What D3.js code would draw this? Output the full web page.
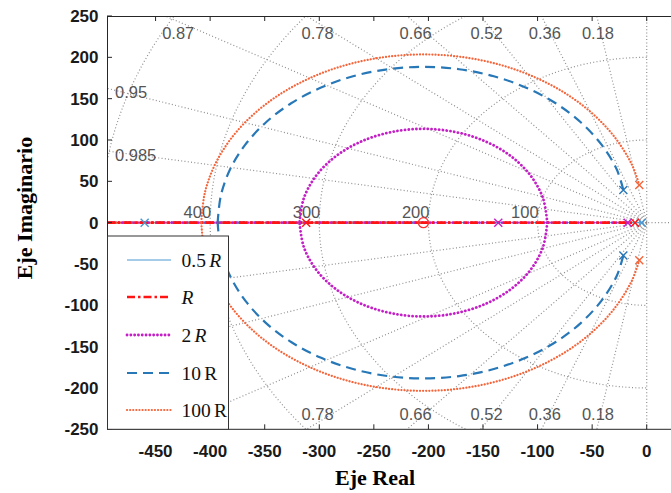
<!DOCTYPE html>
<html><head><meta charset="utf-8">
<script src="https://cdn.jsdelivr.net/npm/d3@7"></script>
<style>body{margin:0;background:#fff}svg{display:block}</style>
</head><body>
<svg id="c" width="671" height="493"></svg>
<script>
// ---------- data ----------
const xTicks = [-450,-400,-350,-300,-250,-200,-150,-100,-50,0];
const yTicks = [-250,-200,-150,-100,-50,0,50,100,150,200,250];
const zetaVals = [0.985,0.95,0.87,0.78,0.66,0.52,0.36,0.18];
const zetaLabels = ["0.985","0.95","0.87","0.78","0.66","0.52","0.36","0.18"];
const wnVals = [100,200,300,400,500];
const wnLabels = ["100","200","300","400","500"];

const seriesNames = ["0.5R","R","2R","10R","100R"];
const legendNum = ["0.5","","2","10","100"];
const legendItalic = [true,true,true,false,false];

// upper-half branches (real, imag); lower half is the conjugate
const locus2R = [[-91.1,0],[-95.0,29.4],[-106.3,56.8],[-124.3,80.3],[-147.8,98.3],[-175.2,109.6],[-204.6,113.5],[-234.0,109.6],[-261.4,98.3],[-284.9,80.3],[-302.9,56.8],[-314.2,29.4],[-318.1,0]];
const locus10R = [[-21.4,39.6],[-27.5,64.5],[-41.4,94.3],[-60.2,121.2],[-83.4,144.4],[-110.4,163.2],[-140.1,177.1],[-171.9,185.6],[-204.6,188.5],[-237.3,185.6],[-269.1,177.1],[-298.9,163.2],[-325.8,144.4],[-349.0,121.2],[-367.8,94.3],[-381.7,64.5],[-390.2,32.7],[-393.1,0]];
const locus100R = [[-6.8,45.6],[-13.4,69.6],[-28.4,101.8],[-48.7,130.8],[-73.8,155.9],[-102.9,176.2],[-135.0,191.2],[-169.3,200.4],[-204.6,203.5],[-239.9,200.4],[-274.2,191.2],[-306.4,176.2],[-335.4,155.9],[-360.5,130.8],[-380.8,101.8],[-395.8,69.6],[-405.0,35.3],[-408.1,0]];

// real-axis segments [from, to]
const axis05R = [[-494.5,-4.5]];
const axisR = [[-494.5,-10.7]];
const axis2R = [[-494.5,-17.4]];
const axis10R = [[-494.5,-204.6]];
const axis100R = [[-494.5,-204.6]];

const poles05R = [[-460,0],[-4.5,0]];
const polesR = [[-312,0],[-10.7,0]];
const poles2R = [[-136,0],[-17.4,0]];
const poles10R = [[-21.4,39.6],[-21.4,-39.6]];
const poles100R = [[-6.8,45.6],[-6.8,-45.6]];
const zerosR = [[-204.6,0]];

// ---------- layout ----------
const L=107, T=16, B=429.3, R=674;
const legW = 121, legTop = 236;
const x = d3.scaleLinear().domain([-494.5,25]).range([L,R]);
const y = d3.scaleLinear().domain([-250,250]).range([B,T]);
const svg = d3.select("#c");
svg.append("defs").append("clipPath").attr("id","pc").append("rect")
  .attr("x",L).attr("y",T).attr("width",R-L).attr("height",B-T);
const plot = svg.append("g").attr("clip-path","url(#pc)");

const gridStyle = s => s.attr("fill","none").attr("stroke","#8f8f8f").attr("stroke-width",1.2).attr("stroke-dasharray","1,2.3");
const grid = plot.append("g");
zetaVals.forEach(z=>{
  const s = Math.sqrt(1-z*z);
  [1,-1].forEach(sg=>{
    grid.append("line").attr("x1",x(0)).attr("y1",y(0)).attr("x2",x(-2000*z)).attr("y2",y(sg*2000*s)).call(gridStyle);
  });
});
grid.append("line").attr("x1",L).attr("x2",R).attr("y1",y(0)).attr("y2",y(0)).call(gridStyle);
grid.append("line").attr("x1",x(0)).attr("x2",x(0)).attr("y1",T).attr("y2",B).call(gridStyle);
const arcLine = d3.line().x(d=>x(d[0])).y(d=>y(d[1]));
wnVals.forEach(w=>{
  const pts = d3.range(90,270.5,1).map(a=>[w*Math.cos(a*Math.PI/180), w*Math.sin(a*Math.PI/180)]);
  grid.append("path").attr("d",arcLine(pts)).call(gridStyle);
});
// grid labels (those under the legend box are hidden in the reference, so skipped)
const gl = plot.append("g").attr("font-family","Liberation Sans, Arial, sans-serif").attr("font-size","16.5px").attr("fill","#555");
zetaVals.forEach((z,i)=>{
  const s = Math.sqrt(1-z*z);
  const reTop = -250*z/s;
  if (reTop >= -494.5) {
    const cx = x(reTop) + 16*Math.pow(z,1.5);
    gl.append("text").attr("x",cx).attr("y",T+23).attr("text-anchor","middle").text(zetaLabels[i]);
    if (cx - 18 > L + legW) gl.append("text").attr("x",cx).attr("y",B-9).attr("text-anchor","middle").text(zetaLabels[i]);
  } else {
    const im = 494.5*s/z;
    gl.append("text").attr("x",L+8).attr("y",y(im)+9.5).text(zetaLabels[i]);
  }
});
wnVals.forEach((w,i)=>{
  if (x(-w) > L+30) gl.append("text").attr("x",x(-w)+1).attr("y",y(0)-4.5).attr("text-anchor","end").text(wnLabels[i]);
});

// ---------- series ----------
const styles = {
  "0.5R": {c:"#4a98d3", w:1, d:null, cap:"butt"},
  "R":    {c:"#ff1414", w:2.6, d:"8,3,2.5,3", cap:"butt"},
  "2R":   {c:"#c41fc6", w:2.8, d:"0.1,3.7", cap:"round"},
  "10R":  {c:"#2878b8", w:2.2, d:"10,6", cap:"butt"},
  "100R": {c:"#f5653a", w:2.2, d:"0.1,3.0", cap:"round"}
};
const locus = {"0.5R":[], "R":[], "2R":[locus2R], "10R":[locus10R], "100R":[locus100R]};
const axisSeg = {"0.5R":axis05R, "R":axisR, "2R":axis2R, "10R":axis10R, "100R":axis100R};
const poles = {"0.5R":poles05R, "R":polesR, "2R":poles2R, "10R":poles10R, "100R":poles100R};
const curve = d3.line().x(d=>x(d[0])).y(d=>y(d[1])).curve(d3.curveCatmullRom);
const applyStyle = (s,st)=> s.attr("fill","none").attr("stroke",st.c).attr("stroke-width",st.w)
   .attr("stroke-dasharray",st.d).attr("stroke-linecap",st.cap);

// real-axis branches (red drawn last, as in the reference)
["0.5R","10R","100R","2R","R"].forEach(n=>{
  const st = styles[n];
  axisSeg[n].forEach(sg=>{
    plot.append("path").attr("d",curve([[sg[0],0],[sg[1],0]])).call(applyStyle,st);
  });
});
seriesNames.forEach(n=>{
  const st = styles[n];
  locus[n].forEach(br=>{
    plot.append("path").attr("d",curve(br)).call(applyStyle,st);
    plot.append("path").attr("d",curve(br.map(p=>[p[0],-p[1]]))).call(applyStyle,st);
  });
});
seriesNames.forEach(n=>{
  const st = styles[n];
  poles[n].forEach(p=>{
    const px=x(p[0]), py=y(p[1]), h=4;
    plot.append("path").attr("d",`M${px-h},${py-h}L${px+h},${py+h}M${px-h},${py+h}L${px+h},${py-h}`)
      .attr("stroke",st.c).attr("stroke-width",1.4).attr("fill","none");
  });
});
zerosR.forEach(p=>{
  plot.append("circle").attr("cx",x(p[0])).attr("cy",y(p[1])).attr("r",5)
    .attr("fill","none").attr("stroke","#ff3030").attr("stroke-width",1.3);
});

// ---------- frame & axes ----------
const ax = svg.append("g").attr("stroke","#262626").attr("stroke-width",1).attr("fill","none");
ax.append("line").attr("x1",L).attr("x2",R).attr("y1",T+0.5).attr("y2",T+0.5);
ax.append("line").attr("x1",L).attr("x2",R).attr("y1",B).attr("y2",B);
ax.append("line").attr("x1",L+0.5).attr("x2",L+0.5).attr("y1",T).attr("y2",B);
xTicks.forEach(v=>{
  ax.append("line").attr("x1",x(v)).attr("x2",x(v)).attr("y1",T).attr("y2",T+5);
  ax.append("line").attr("x1",x(v)).attr("x2",x(v)).attr("y1",B).attr("y2",B-5);
});
yTicks.forEach(v=>{
  ax.append("line").attr("x1",L).attr("x2",L+5).attr("y1",y(v)).attr("y2",y(v));
});
const tl = svg.append("g").attr("font-family","Liberation Sans, Arial, sans-serif").attr("font-weight","bold").attr("font-size","17px").attr("fill","#1a1a1a");
xTicks.forEach(v=>{
  tl.append("text").attr("x",x(v)).attr("y",457).attr("text-anchor","middle").text(v);
});
yTicks.forEach(v=>{
  tl.append("text").attr("x",98.5).attr("y",y(v)+6).attr("text-anchor","end").text(v);
});
svg.append("text").attr("x",375).attr("y",485).attr("text-anchor","middle")
  .attr("font-family","Liberation Serif, Times New Roman, serif").attr("font-weight","bold").attr("font-size","22px").text("Eje Real");
svg.append("text").attr("transform","translate(32,208) rotate(-90)").attr("text-anchor","middle")
  .attr("font-family","Liberation Serif, Times New Roman, serif").attr("font-weight","bold").attr("font-size","22px").text("Eje Imaginario");

// ---------- legend ----------
const lg = svg.append("g");
lg.append("rect").attr("x",L+0.5).attr("y",legTop).attr("width",legW).attr("height",B-legTop)
  .attr("fill","#fff").attr("stroke","#333").attr("stroke-width",1);
const rowY = [260,297,335,373,410];
seriesNames.forEach((n,i)=>{
  const st = styles[n];
  lg.append("line").attr("x1",127).attr("x2",171).attr("y1",rowY[i]).attr("y2",rowY[i]).call(applyStyle,st);
  const t = lg.append("text").attr("x",181.5).attr("y",rowY[i]+7)
    .attr("font-family","Liberation Serif, Times New Roman, serif").attr("font-size","19.5px").attr("fill","#111");
  if (legendNum[i]) t.append("tspan").text(legendNum[i]+"\u2006");
  t.append("tspan").attr("font-style",legendItalic[i]?"italic":"normal").text("R");
});
</script>
</body></html>
